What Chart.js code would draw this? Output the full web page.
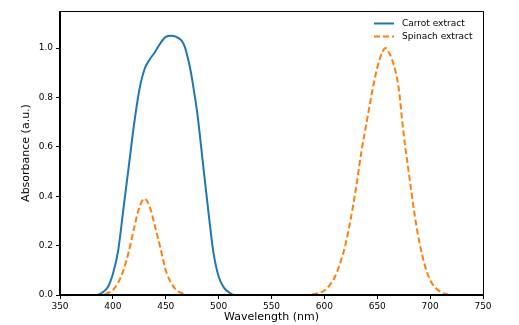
<!DOCTYPE html>
<html lang="en">
<head>
  <meta charset="UTF-8" />
  <title>Absorbance spectra</title>
  <script src="https://cdn.jsdelivr.net/npm/chart.js@4.4.0/dist/chart.umd.min.js"></script>
  <style>
    html, body { margin: 0; padding: 0; background: #fff; }
    #chart { display: block; }
  </style>
</head>
<body>
  <canvas id="chart" width="519" height="325"></canvas>
  <script>
    // Carrot extract (blue, solid)
    var carrotWavelength = [350, 385, 390, 395, 400, 405, 410, 415, 420, 425, 430, 435, 440, 445, 450, 455,
      460, 465, 468, 470, 473, 476, 480, 485, 490, 495, 500, 505, 510, 515, 750];
    var carrotAbs = [0, 0, 0.01, 0.03, 0.085, 0.18, 0.35, 0.52, 0.69, 0.83, 0.915, 0.955, 0.985, 1.02, 1.045, 1.05,
      1.045, 1.03, 1.005, 0.975, 0.92, 0.845, 0.73, 0.54, 0.35, 0.175, 0.075, 0.03, 0.01, 0, 0];

    // Spinach extract (orange, dashed)
    var spinachWavelength = [350, 390, 395, 400, 405, 410, 415, 420, 425, 430, 435, 440, 445, 450, 455, 460, 465, 470,
      585, 590, 595, 600, 605, 610, 615, 620, 625, 630, 635, 640, 645, 650, 655, 658, 660, 665, 670, 675, 680,
      685, 690, 695, 700, 705, 710, 715, 720, 750];
    var spinachAbs = [0, 0, 0.008, 0.02, 0.05, 0.10, 0.175, 0.27, 0.355, 0.39, 0.355, 0.275, 0.19, 0.10, 0.05, 0.02, 0.008, 0,
      0, 0.004, 0.008, 0.018, 0.04, 0.074, 0.13, 0.205, 0.31, 0.435, 0.58, 0.70, 0.82, 0.92, 0.985, 1.0, 0.99, 0.94, 0.845, 0.65, 0.49,
      0.335, 0.21, 0.12, 0.06, 0.03, 0.012, 0.004, 0, 0];

    var xTicks = [350, 400, 450, 500, 550, 600, 650, 700, 750];
    var yTicks = [0.0, 0.2, 0.4, 0.6, 0.8, 1.0];

    function toPoints(xs, ys) {
      return xs.map(function (x, i) { return { x: x, y: ys[i] }; });
    }

    var FONT = "'DejaVu Sans', sans-serif";

    // frame around the plot area (all four spines)
    var framePlugin = {
      id: 'frame',
      afterDatasetsDraw: function (chart) {
        var a = chart.chartArea, ctx = chart.ctx;
        ctx.save();
        ctx.strokeStyle = '#000';
        ctx.lineWidth = 1;
        ctx.strokeRect(Math.round(a.left) - 0.5, Math.round(a.top) + 0.5,
          Math.round(a.right - a.left) + 1, Math.round(a.bottom - a.top) - 1);
        ctx.restore();
      }
    };

    // legend drawn inside the plot, top right, no frame
    var legendPlugin = {
      id: 'insideLegend',
      afterDraw: function (chart) {
        var a = chart.chartArea, ctx = chart.ctx;
        ctx.save();
        chart.data.datasets.forEach(function (ds, i) {
          var y = a.top + 12.5 + i * 13;
          var x0 = a.right - 109;
          ctx.strokeStyle = ds.borderColor;
          ctx.lineWidth = ds.borderWidth;
          ctx.setLineDash(ds.borderDash || []);
          ctx.beginPath();
          ctx.moveTo(x0, y);
          ctx.lineTo(x0 + 20, y);
          ctx.stroke();
          ctx.setLineDash([]);
          ctx.fillStyle = '#000';
          ctx.font = '9px ' + FONT;
          ctx.textBaseline = 'middle';
          ctx.textAlign = 'left';
          ctx.fillText(ds.label, x0 + 28, y);
        });
        ctx.restore();
      }
    };

    var ctx = document.getElementById('chart').getContext('2d');
    new Chart(ctx, {
      type: 'line',
      data: {
        datasets: [{
          label: 'Carrot extract',
          data: toPoints(carrotWavelength, carrotAbs),
          borderColor: '#1f77b4',
          borderWidth: 2,
          pointRadius: 0,
          cubicInterpolationMode: 'monotone',
          fill: false
        }, {
          label: 'Spinach extract',
          data: toPoints(spinachWavelength, spinachAbs),
          borderColor: '#ff7f0e',
          borderWidth: 2,
          borderDash: [6, 3],
          pointRadius: 0,
          cubicInterpolationMode: 'monotone',
          fill: false
        }]
      },
      options: {
        responsive: false,
        animation: false,
        layout: { padding: { top: 11, right: 36, left: 0, bottom: 0 } },
        plugins: {
          legend: { display: false },
          tooltip: { enabled: false }
        },
        scales: {
          x: {
            type: 'linear',
            min: xTicks[0],
            max: xTicks[xTicks.length - 1],
            afterFit: function (scale) { scale.height = 30; },
            afterBuildTicks: function (scale) {
              scale.ticks = xTicks.map(function (v) { return { value: v }; });
            },
            grid: { display: true, drawOnChartArea: false, drawTicks: true, tickLength: 4, tickColor: '#000' },
            border: { display: true, color: '#000', width: 1 },
            ticks: {
              color: '#000',
              padding: 2,
              maxRotation: 0,
              font: { family: FONT, size: 9 },
              callback: function (v) { return String(v); }
            },
            title: {
              display: true,
              text: 'Wavelength (nm)',
              color: '#000',
              font: { family: FONT, size: 11 },
              padding: { top: 0, bottom: 1.5 }
            }
          },
          y: {
            type: 'linear',
            min: 0,
            max: 1.15,
            afterFit: function (scale) { scale.width = 60; },
            afterBuildTicks: function (scale) {
              scale.ticks = yTicks.map(function (v) { return { value: v }; });
            },
            grid: { display: true, drawOnChartArea: false, drawTicks: true, tickLength: 4, tickColor: '#000' },
            border: { display: true, color: '#000', width: 1 },
            ticks: {
              color: '#000',
              padding: 3,
              font: { family: FONT, size: 9 },
              callback: function (v) { return Number(v).toFixed(1); }
            },
            title: {
              display: true,
              text: 'Absorbance (a.u.)',
              color: '#000',
              font: { family: FONT, size: 11 },
              padding: { top: 20, bottom: 0 }
            }
          }
        }
      },
      plugins: [framePlugin, legendPlugin]
    });
  </script>
</body>
</html>
